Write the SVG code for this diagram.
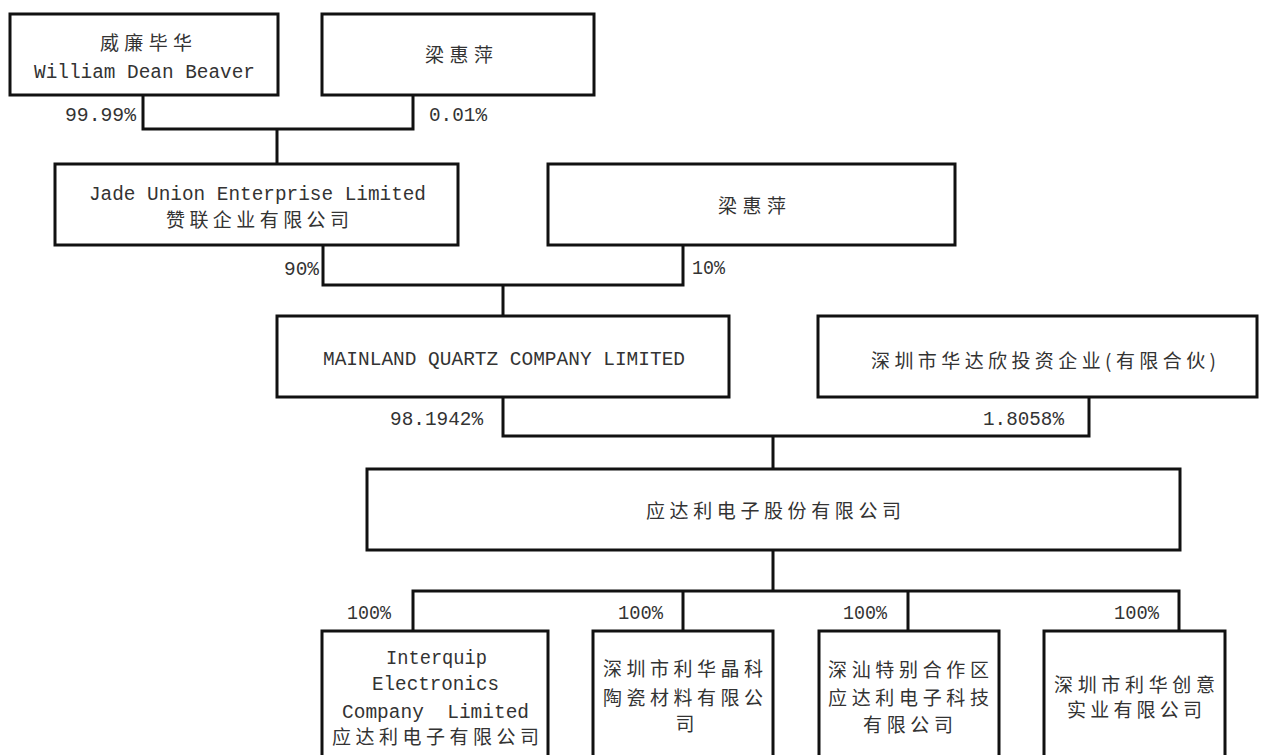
<svg xmlns="http://www.w3.org/2000/svg" width="1261" height="755" viewBox="0 0 1261 755">
<style>
.box{fill:#fff;stroke:#111;stroke-width:3}
.conn{fill:none;stroke:#111;stroke-width:3}
.en{font-family:"Liberation Mono","DejaVu Sans Mono",monospace;font-size:20px;fill:#333}
.zh{font-family:"Noto Sans CJK SC","Noto Sans CJK TC",sans-serif;font-size:19px;fill:#333}
</style>
<rect width="1261" height="755" fill="#fff"/>
<g id="connectors">
<path class="conn" d="M143,95 V129 H413 V95 M277,129 V164"/>
<path class="conn" d="M323,245 V285 H683 V245 M503,285 V316"/>
<path class="conn" d="M503,397 V436 H1089 V397 M773,436 V469"/>
<path class="conn" d="M773,550 V591 M413,631 V591 H1179 V631 M683,591 V631 M908,591 V631"/>
<text class="en" x="65" y="121" textLength="71" lengthAdjust="spacingAndGlyphs">99.99%</text>
<text class="en" x="429" y="121" textLength="58" lengthAdjust="spacingAndGlyphs">0.01%</text>
<text class="en" x="284" y="275" textLength="35" lengthAdjust="spacingAndGlyphs">90%</text>
<text class="en" x="692" y="274" textLength="33" lengthAdjust="spacingAndGlyphs">10%</text>
<text class="en" x="390" y="425" textLength="93" lengthAdjust="spacingAndGlyphs">98.1942%</text>
<text class="en" x="983" y="425" textLength="81" lengthAdjust="spacingAndGlyphs">1.8058%</text>
<text class="en" x="347" y="619" textLength="44" lengthAdjust="spacingAndGlyphs">100%</text>
<text class="en" x="618" y="619" textLength="45" lengthAdjust="spacingAndGlyphs">100%</text>
<text class="en" x="843" y="619" textLength="44" lengthAdjust="spacingAndGlyphs">100%</text>
<text class="en" x="1114" y="619" textLength="45" lengthAdjust="spacingAndGlyphs">100%</text>
</g>
<g id="n1">
<rect class="box" x="10" y="14" width="268" height="81"/>
<text class="zh" x="100" y="50" textLength="92">威廉毕华</text>
<text class="en" x="34" y="78" textLength="221" lengthAdjust="spacingAndGlyphs">William Dean Beaver</text>
</g>
<g id="n2">
<rect class="box" x="322" y="14" width="272" height="81"/>
<text class="zh" x="425" y="62" textLength="68">梁惠萍</text>
</g>
<g id="n3">
<rect class="box" x="55" y="164" width="403" height="81"/>
<text class="en" x="89" y="200" textLength="337" lengthAdjust="spacingAndGlyphs">Jade Union Enterprise Limited</text>
<text class="zh" x="166" y="227" textLength="183">赞联企业有限公司</text>
</g>
<g id="n4">
<rect class="box" x="548" y="164" width="407" height="81"/>
<text class="zh" x="718" y="213" textLength="68">梁惠萍</text>
</g>
<g id="n5">
<rect class="box" x="277" y="316" width="452" height="81"/>
<text class="en" x="323" y="365" textLength="362" lengthAdjust="spacingAndGlyphs">MAINLAND QUARTZ COMPANY LIMITED</text>
</g>
<g id="n6">
<rect class="box" x="818" y="316" width="439" height="81"/>
<text class="zh" x="871" y="368" textLength="345">深圳市华达欣投资企业(有限合伙)</text>
</g>
<g id="n7">
<rect class="box" x="367" y="469" width="813" height="81"/>
<text class="zh" x="646" y="518" textLength="255">应达利电子股份有限公司</text>
</g>
<g id="n8">
<rect class="box" x="322" y="631" width="226" height="140"/>
<text class="en" x="386" y="664" textLength="101" lengthAdjust="spacingAndGlyphs">Interquip</text>
<text class="en" x="372" y="690" textLength="127" lengthAdjust="spacingAndGlyphs">Electronics</text>
<text class="en" x="342" y="718" textLength="187" lengthAdjust="spacingAndGlyphs" xml:space="preserve">Company  Limited</text>
<text class="zh" x="332" y="744" textLength="207">应达利电子有限公司</text>
</g>
<g id="n9">
<rect class="box" x="593" y="631" width="180" height="140"/>
<text class="zh" x="603" y="676" textLength="160">深圳市利华晶科</text>
<text class="zh" x="603" y="705" textLength="160">陶瓷材料有限公</text>
<text class="zh" x="685" y="731" text-anchor="middle">司</text>
</g>
<g id="n10">
<rect class="box" x="819" y="631" width="180" height="140"/>
<text class="zh" x="828" y="677" textLength="161">深汕特别合作区</text>
<text class="zh" x="828" y="705" textLength="161">应达利电子科技</text>
<text class="zh" x="863" y="732" textLength="90">有限公司</text>
</g>
<g id="n11">
<rect class="box" x="1044" y="631" width="181" height="140"/>
<text class="zh" x="1054" y="692" textLength="161">深圳市利华创意</text>
<text class="zh" x="1067" y="717" textLength="135">实业有限公司</text>
</g>
</svg>
